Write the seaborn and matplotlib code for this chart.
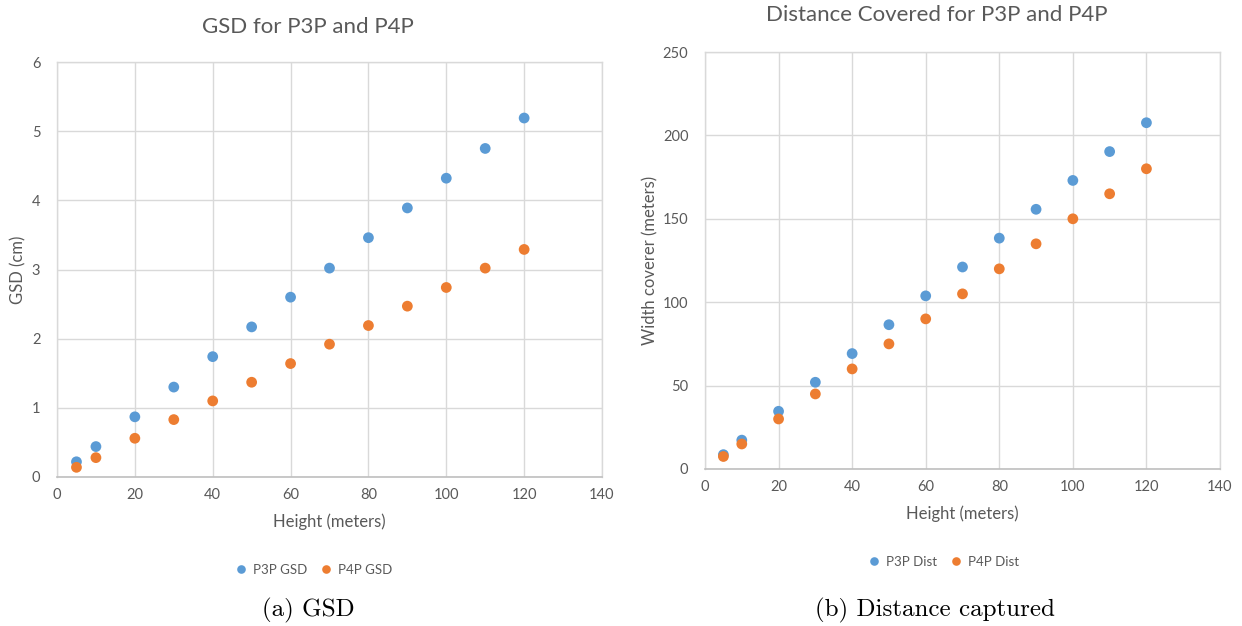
import matplotlib
matplotlib.use("Agg")
import matplotlib.pyplot as plt
import seaborn as sns
import pandas as pd

heights = [5, 10, 20, 30, 40, 50, 60, 70, 80, 90, 100, 110, 120]
p3p_gsd = [0.22, 0.44, 0.87, 1.30, 1.74, 2.17, 2.60, 3.02, 3.46, 3.89, 4.32, 4.75, 5.19]
p4p_gsd = [0.14, 0.28, 0.56, 0.83, 1.10, 1.37, 1.64, 1.92, 2.19, 2.47, 2.74, 3.02, 3.29]
p3p_dist = [8.6, 17.3, 34.6, 52.0, 69.2, 86.5, 103.8, 121.1, 138.4, 155.7, 173.0, 190.3, 207.6]
p4p_dist = [7.5, 15.0, 30.0, 45.0, 60.0, 75.0, 90.0, 105.0, 120.0, 135.0, 150.0, 165.0, 180.0]

gsd_labels = ["P3P GSD", "P4P GSD"]
dist_labels = ["P3P Dist", "P4P Dist"]
titles = ["GSD for P3P and P4P", "Distance Covered for P3P and P4P"]
ylabels = ["GSD (cm)", "Width coverer (meters)"]
xlabel = "Height (meters)"
captions = ["(a) GSD", "(b) Distance captured"]

sns.set_theme(style="white")
plt.rcParams['font.family'] = ['Lato', 'DejaVu Sans']

BLUE = "#5B9BD5"
ORANGE = "#ED7D31"
TXT = "#595959"
GRID = "#D9D9D9"

df_gsd = pd.DataFrame({
    "Height": heights * 2,
    "Value": p3p_gsd + p4p_gsd,
    "Series": [gsd_labels[0]] * len(heights) + [gsd_labels[1]] * len(heights),
})
df_dist = pd.DataFrame({
    "Height": heights * 2,
    "Value": p3p_dist + p4p_dist,
    "Series": [dist_labels[0]] * len(heights) + [dist_labels[1]] * len(heights),
})

fig = plt.figure(figsize=(12.42, 6.26), dpi=100)
W, H = 1242, 626

def rect(l, t, r, b):
    return [l / W, 1 - b / H, (r - l) / W, (b - t) / H]

ax1 = fig.add_axes(rect(57, 62, 602, 477))
ax2 = fig.add_axes(rect(705, 52, 1220, 469))

configs = [
    (ax1, df_gsd, gsd_labels, (0, 6), [0, 1, 2, 3, 4, 5, 6], 308, 27, 570, 310, 18),
    (ax2, df_dist, dist_labels, (0, 250), [0, 50, 100, 150, 200, 250], 937, 15, 562, 940, 650),
]

for i, (ax, df, labels, ylim, yticks, tx, ty, ly, lx, ylx) in enumerate(configs):
    sns.scatterplot(data=df, x="Height", y="Value", hue="Series",
                    palette={labels[0]: BLUE, labels[1]: ORANGE},
                    s=60, edgecolor="none", ax=ax, legend=True, zorder=3)
    ax.set_xlim(0, 140)
    ax.set_ylim(*ylim)
    ax.set_xticks(range(0, 141, 20))
    ax.set_yticks(yticks)
    ax.grid(True, color=GRID, linewidth=1)
    ax.set_axisbelow(True)
    for side in ["top", "right", "left"]:
        ax.spines[side].set_color(GRID)
        ax.spines[side].set_linewidth(1)
    ax.spines["bottom"].set_color("#BFBFBF")
    ax.spines["bottom"].set_linewidth(1.2)
    ax.tick_params(axis="x", length=0, labelsize=10.5, colors=TXT, pad=8)
    ax.tick_params(axis="y", length=0, labelsize=10.5, colors=TXT, pad=12)
    ax.set_xlabel(xlabel, fontsize=12, color=TXT, labelpad=8)
    ax.set_ylabel(ylabels[i], fontsize=12, color=TXT)
    ax.yaxis.set_label_coords(ylx / W, 0.5, transform=fig.transFigure)
    ax.yaxis.label.set_verticalalignment("center")
    fig.text(tx / W, 1 - ty / H, titles[i], ha="center", va="center",
             fontsize=16, color=TXT)
    ax.legend(loc="center", bbox_to_anchor=(lx / W, 1 - ly / H),
              bbox_transform=fig.transFigure, ncol=2, frameon=False,
              fontsize=9.5, labelcolor=TXT, handletextpad=-0.1,
              columnspacing=0.4, markerscale=0.8)
    fig.text([308, 935][i] / W, 1 - 610 / H, captions[i], ha="center",
             va="center", fontsize=18, family="cmr10", color="black")

# vertical position of ylabels: centre of each axes
ax1.yaxis.set_label_coords(18 / W, 1 - (62 + 477) / 2 / H, transform=fig.transFigure)
ax2.yaxis.set_label_coords(650 / W, 1 - (52 + 469) / 2 / H, transform=fig.transFigure)

fig.savefig("out.png", dpi=100)
